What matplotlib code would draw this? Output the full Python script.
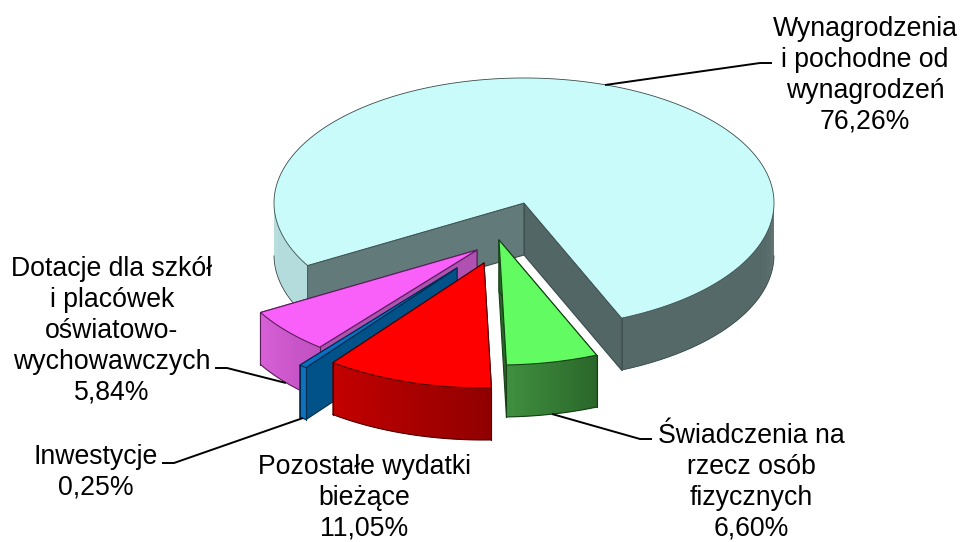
import numpy as np
import matplotlib
matplotlib.use("Agg")
import matplotlib.pyplot as plt
from matplotlib.colors import to_rgb

plt.rcParams['font.family'] = ['Liberation Sans', 'DejaVu Sans']

# --- data ---
categories = ["Dotacje dla szkół\ni placówek\noświatowo-\nwychowawczych", "Inwestycje",
              "Pozostałe wydatki\nbieżące", "Świadczenia na\nrzecz osób\nfizycznych",
              "Wynagrodzenia\ni pochodne od\nwynagrodzeń"]
values = [5.84, 0.25, 11.05, 6.60, 76.26]

# --- layout / style (pixels of the 960x542 canvas) ---
start_angle = 210.0
rx, ry, depth = 250, 125, 52
apex_x = [477, 457, 484, 499, 524]
apex_y = [250, 268, 263, 240, 203]
top_col = ["#F95FF9", "#0A6FBF", "#FF0000", "#62FB62", "#C9FBFB"]
wall_left = ["#D860D8", "#0F70BC", "#C40000", "#408F40", "#B4DCDC"]
wall_right = ["#C050C0", "#0F70BC", "#900000", "#2A662A", "#556969"]
radial_a0 = ["#B050B0", "#005288", "#900000", "#2A662A", "#526666"]
radial_a1 = ["#B050B0", "#005288", "#900000", "#2A662A", "#627A7A"]
edge_col = ["#5A205A", "#002C50", "#500000", "#144014", "#3A4C4C"]
edge_lw = [0.8, 0.8, 0.8, 0.8, 0.6]
paint_order = [4, 0, 3, 1, 2]
label_x = [112, 96, 364, 751, 865]
label_y = [399.5, 494.5, 535.5, 535.5, 128.5]  # baseline of the last line
leaders = [[(215, 368), (227, 368), (286, 383)],
           [(162, 463), (174, 463), (303, 418)],
           None,
           [(552, 414), (640, 439), (652, 439)],
           [(605, 85), (760, 63), (772, 63)]]
warp_in = [210, 231.02, 232.02, 271.7, 295.5, 570]
warp_off = [0, 0, 1, 0, -2.5, 0]

fig = plt.figure(figsize=(9.6, 5.42), dpi=100)
ax = fig.add_axes([0, 0, 1, 1])
ax.set_xlim(0, 960)
ax.set_ylim(542, 0)
ax.axis("off")


def warp(a):
    return a + np.interp(a, warp_in, warp_off)


sweeps = np.array(values) / sum(values) * 360
starts = start_angle + np.concatenate([[0], np.cumsum(sweeps)[:-1]])


def rim(i, a):
    t = np.radians(a)
    return apex_x[i] + rx * np.cos(t), apex_y[i] - ry * np.sin(t)


z = 1
for i in paint_order:
    a0, a1 = warp(starts[i]), warp(starts[i] + sweeps[i])
    ang = np.linspace(a0, a1, max(int((a1 - a0) * 2), 4))
    X, Y = rim(i, ang)
    ec = edge_col[i]
    lw = edge_lw[i]
    # radial walls
    for a, col in ((a0, radial_a0[i]), (a1, radial_a1[i])):
        x, y = rim(i, a)
        px = [apex_x[i], x, x, apex_x[i]]
        py = [apex_y[i], y, y + depth, apex_y[i] + depth]
        z += 1
        ax.fill(px, py, fc=col, ec=ec, lw=0.8, joinstyle="round", zorder=z)
    # curved wall, front part only
    sin_a = np.sin(np.radians(ang))
    vis = sin_a <= 0
    idx = np.where(vis)[0]
    runs = np.split(idx, np.where(np.diff(idx) > 1)[0] + 1)
    for r in runs:
        if len(r) < 2:
            continue
        for k in range(len(r) - 1):
            j = r[k]
            e = r[min(k + 2, len(r) - 1)]  # overlap the next strip to hide seams
            if i == 4:
                col = wall_left[i] if X[j] < apex_x[i] else wall_right[i]
            else:
                f = (ang[j] - a0) / (a1 - a0)
                c0, c1 = np.array(to_rgb(wall_left[i])), np.array(to_rgb(wall_right[i]))
                col = tuple(c0 + (c1 - c0) * f)
            z += 1
            ax.fill([X[j], X[e], X[e], X[j]],
                    [Y[j], Y[e], Y[e] + depth, Y[j] + depth],
                    fc=col, ec="none", lw=0, zorder=z)
        z += 1
        ax.plot(X[r], Y[r] + depth, color=ec, lw=lw, zorder=z)
        for end in (r[0], r[-1]):
            if abs(sin_a[end]) > 0.05:  # no edge where the wall just turns out of sight
                ax.plot([X[end], X[end]], [Y[end], Y[end] + depth], color=ec, lw=lw, zorder=z)
    # top face
    z += 1
    ax.fill(np.r_[apex_x[i], X], np.r_[apex_y[i], Y], fc=top_col[i], ec=ec, lw=lw,
            joinstyle="round", zorder=z)

# leader lines
z += 1
for pts in leaders:
    if pts:
        ax.plot(*zip(*pts), color="black", lw=1.4, solid_capstyle="butt", zorder=z)

# labels
for name, v, x, y in zip(categories, values, label_x, label_y):
    txt = name + "\n" + f"{v:.2f}".replace(".", ",") + "%"
    ax.text(x, y, txt, ha="center", va="baseline", fontsize=19.2, color="black",
            linespacing=1.24, zorder=z + 1)

fig.savefig("out.png", dpi=100, facecolor="white")
